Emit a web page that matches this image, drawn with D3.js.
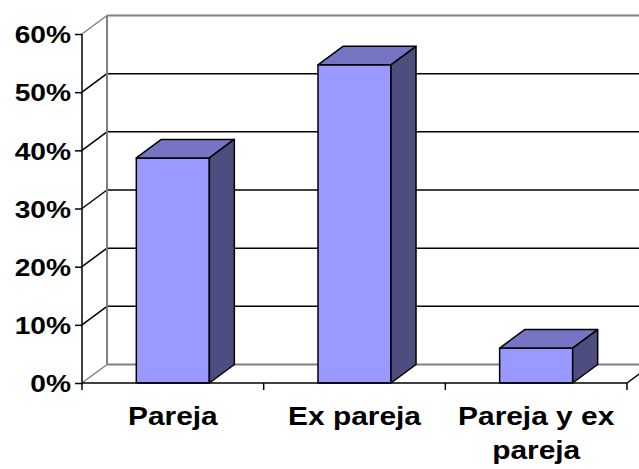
<!DOCTYPE html>
<html>
<head>
<meta charset="utf-8">
<script src="https://cdn.jsdelivr.net/npm/d3@7"></script>
<style>
    body { margin: 0; background: #fff; }
    svg text { font-family: "Liberation Sans", Arial, sans-serif; font-weight: bold; fill: #000; }
</style>
</head>
<body>
<svg id="chart" width="639" height="469"></svg>
<script>
    (function () {
        'use strict';

        // chart values
        var categories = ["Pareja", "Ex pareja", "Pareja y ex pareja"];
        var categoryLines = [["Pareja"], ["Ex pareja"], ["Pareja y ex", "pareja"]];
        var values = [0.387, 0.547, 0.060];
        var yTicks = [0, 0.1, 0.2, 0.3, 0.4, 0.5, 0.6];

        var vm = {};
        vm.svg = d3.select("svg#chart");
        vm.left = 82;
        vm.right = 627;
        vm.bottom = 383;
        vm.top = 34;
        vm.dx = 25;
        vm.dy = -18.5;
        vm.stretch = 1.15;

        vm.x = d3.scaleBand().domain(categories).range([vm.left, vm.right])
            .paddingInner(0.598).paddingOuter(0.299);
        vm.y = d3.scaleLinear().domain([0, 0.6]).range([vm.bottom, vm.top]);

        drawWalls();
        drawBars();
        drawAxes();

        function drawWalls() {
            var g = vm.svg.append("g").attr("class", "walls");
            var bx0 = vm.left + vm.dx, bx1 = vm.right + vm.dx;

            // back wall gridlines and side wall diagonals
            yTicks.forEach(function (t) {
                var edge = (t === 0 || t === 0.6);
                var col = edge ? "#808080" : "#000";
                var yy = vm.y(t);
                g.append("line")
                    .attr("x1", bx0).attr("x2", bx1 + 20)
                    .attr("y1", yy + vm.dy).attr("y2", yy + vm.dy)
                    .attr("stroke", col).attr("stroke-width", edge ? 2 : 1.5);
                g.append("line")
                    .attr("x1", vm.left).attr("y1", yy)
                    .attr("x2", bx0).attr("y2", yy + vm.dy)
                    .attr("stroke", col).attr("stroke-width", 1.5);
            });

            // back edge of the side wall
            g.append("line")
                .attr("x1", bx0).attr("x2", bx0)
                .attr("y1", vm.y(0.6) + vm.dy).attr("y2", vm.y(0) + vm.dy)
                .attr("stroke", "#808080").attr("stroke-width", 2);

            // right edge of the floor
            g.append("line")
                .attr("x1", vm.right).attr("y1", vm.y(0))
                .attr("x2", bx1).attr("y2", vm.y(0) + vm.dy)
                .attr("stroke", "#000").attr("stroke-width", 1.5);
        }

        function drawBars() {
            var bw = vm.x.bandwidth();
            var bars = vm.svg.selectAll(".bar")
                .data(categories.map(function (c, i) { return {cat: c, value: values[i]}; }))
                .enter().append("g")
                .attr("class", "bar")
                .attr("stroke", "#000")
                .attr("stroke-width", 1.5)
                .attr("stroke-linejoin", "round");

            bars.append("rect")
                .attr("x", function (d) { return vm.x(d.cat); })
                .attr("y", function (d) { return vm.y(d.value); })
                .attr("width", bw)
                .attr("height", function (d) { return vm.y(0) - vm.y(d.value); })
                .attr("fill", "#9999ff");

            bars.append("path")
                .attr("fill", "#7575c3")
                .attr("d", function (d) {
                    var x0 = vm.x(d.cat), x1 = x0 + bw, yv = vm.y(d.value);
                    return "M" + x0 + "," + yv + "L" + (x0 + vm.dx) + "," + (yv + vm.dy) +
                        "L" + (x1 + vm.dx) + "," + (yv + vm.dy) + "L" + x1 + "," + yv + "Z";
                });

            bars.append("path")
                .attr("fill", "#4d4d80")
                .attr("d", function (d) {
                    var x1 = vm.x(d.cat) + bw, yv = vm.y(d.value), y0 = vm.y(0);
                    return "M" + x1 + "," + yv + "L" + (x1 + vm.dx) + "," + (yv + vm.dy) +
                        "L" + (x1 + vm.dx) + "," + (y0 + vm.dy) + "L" + x1 + "," + y0 + "Z";
                });
        }

        function drawAxes() {
            var yAxis = vm.svg.append("g")
                .attr("class", "axis axis--y")
                .attr("transform", "translate(" + vm.left + ",0)")
                .call(d3.axisLeft(vm.y).tickValues(yTicks).tickFormat(d3.format(".0%"))
                    .tickSize(7).tickPadding(0));
            yAxis.select(".domain").remove();
            yAxis.selectAll(".tick line").attr("stroke", "#000").attr("stroke-width", 1.5);
            yAxis.selectAll(".tick text")
                .attr("x", -11 / vm.stretch)
                .attr("dy", "0.36em")
                .attr("transform", "scale(" + vm.stretch + ",1)")
                .style("font-size", "24.5px")
                .style("font-family", "'Liberation Sans', Arial, sans-serif");

            // front axis lines
            vm.svg.append("line")
                .attr("x1", vm.left).attr("x2", vm.left)
                .attr("y1", vm.y(0.6)).attr("y2", vm.y(0) + 7)
                .attr("stroke", "#000").attr("stroke-width", 1.5);
            vm.svg.append("line")
                .attr("x1", vm.left).attr("x2", vm.right)
                .attr("y1", vm.y(0)).attr("y2", vm.y(0))
                .attr("stroke", "#000").attr("stroke-width", 1.5);

            // category boundary ticks
            var step = vm.x.step();
            vm.svg.selectAll(".xtick")
                .data(d3.range(1, categories.length + 1))
                .enter().append("line")
                .attr("class", "xtick")
                .attr("x1", function (i) { return vm.left + i * step; })
                .attr("x2", function (i) { return vm.left + i * step; })
                .attr("y1", vm.y(0)).attr("y2", vm.y(0) + 7)
                .attr("stroke", "#000").attr("stroke-width", 1.5);

            var labels = vm.svg.selectAll(".xlabel")
                .data(categories)
                .enter().append("text")
                .attr("class", "xlabel")
                .attr("text-anchor", "middle")
                .style("font-size", "26px")
                .attr("transform", function (d) {
                    return "translate(" + (vm.x(d) + vm.x.bandwidth() / 2) + ",425) scale(" + vm.stretch + ",1)";
                });

            labels.selectAll("tspan")
                .data(function (d, i) { return categoryLines[i]; })
                .enter().append("tspan")
                .attr("x", 0)
                .attr("y", function (d, i) { return i * 34; })
                .text(function (d) { return d; });
        }
    })();
</script>
</body>
</html>
